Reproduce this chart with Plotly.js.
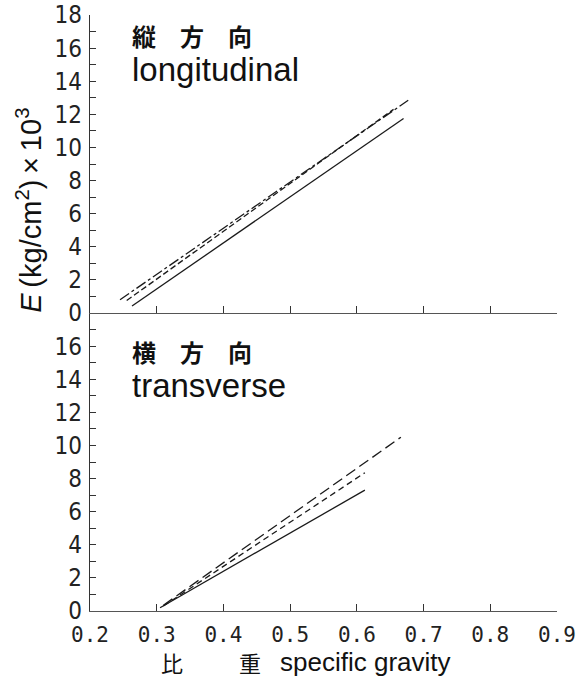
<!DOCTYPE html>
<html>
<head>
<meta charset="utf-8">
<script src="https://cdn.plot.ly/plotly-3.0.1.min.js"></script>
<style>
  html, body { margin: 0; padding: 0; background: #fff; }
  #chart { width: 582px; height: 680px; }
</style>
</head>
<body>
<div id="chart"></div>
<script>
// Young's modulus vs specific gravity, longitudinal (top) and transverse (bottom)

// 縦方向 longitudinal
const longSolidX = [0.263, 0.670];
const longSolidY = [0.42, 11.75];
const longDashX = [0.255, 0.655];
const longDashY = [0.75, 12.3];
const longDashDotX = [0.245, 0.677];
const longDashDotY = [0.8, 12.85];

// 横方向 transverse
const transSolidX = [0.305, 0.612];
const transSolidY = [0.2, 7.3];
const transDashX = [0.31, 0.612];
const transDashY = [0.3, 8.35];
const transLongDashX = [0.31, 0.666];
const transLongDashY = [0.35, 10.5];

// axis ticks
const xTicks = [0.2, 0.3, 0.4, 0.5, 0.6, 0.7, 0.8, 0.9];
const xTickText = ['0.2', '0.3', '0.4', '0.5', '0.6', '0.7', '0.8', '0.9'];
const yTicksTop = [0,1,2,3,4,5,6,7,8,9,10,11,12,13,14,15,16,17,18];
const yTicksBottom = [0,1,2,3,4,5,6,7,8,9,10,11,12,13,14,15,16,17];

const ink = '#1a1a1a';
const evenLabels = v => (v % 2 === 0 ? String(v) : '');

function line(x, y, dash, xa, ya) {
  return {
    x: x, y: y, type: 'scatter', mode: 'lines',
    xaxis: xa, yaxis: ya, showlegend: false, hoverinfo: 'skip',
    line: { color: ink, width: 1.3, dash: dash }
  };
}

const data = [
  line(longSolidX, longSolidY, 'solid', 'x2', 'y2'),
  line(longDashX, longDashY, '6px,3px', 'x2', 'y2'),
  line(longDashDotX, longDashDotY, '11px,3px,3px,3px', 'x2', 'y2'),
  line(transSolidX, transSolidY, 'solid', 'x', 'y'),
  line(transDashX, transDashY, '6px,4px', 'x', 'y'),
  line(transLongDashX, transLongDashY, '11px,5px', 'x', 'y')
];

const tickFont = { family: 'DejaVu Sans Condensed, Liberation Sans Narrow, Liberation Sans, sans-serif', size: 24, color: '#222' };

const baseX = {
  range: [0.2, 0.9], tickvals: xTicks, ticktext: xTickText,
  ticks: 'inside', ticklen: 7, tickwidth: 1, tickcolor: '#333',
  showline: true, linecolor: '#555', linewidth: 1.2,
  showgrid: false, zeroline: false
};
const baseY = {
  range: [0, 18], ticks: 'inside', ticklen: 6, tickwidth: 1, tickcolor: '#333',
  showline: true, linecolor: '#333', linewidth: 1.2,
  showgrid: false, zeroline: false, tickfont: tickFont, ticklabelstandoff: 2
};

const layout = {
  width: 582, height: 680,
  margin: { l: 90, r: 25, t: 15, b: 69 },
  paper_bgcolor: '#fff', plot_bgcolor: '#fff',
  xaxis: Object.assign({}, baseX, {
    domain: [0, 1], anchor: 'y',
    tickfont: { family: 'DejaVu Sans Mono, monospace', size: 21, color: '#222' },
    ticklabelstandoff: 5
  }),
  xaxis2: Object.assign({}, baseX, { domain: [0, 1], anchor: 'y2', showticklabels: false }),
  yaxis: Object.assign({}, baseY, {
    domain: [0, 0.5], anchor: 'x',
    tickvals: yTicksBottom, ticktext: yTicksBottom.map(evenLabels)
  }),
  yaxis2: Object.assign({}, baseY, {
    domain: [0.5, 1], anchor: 'x2',
    tickvals: yTicksTop, ticktext: yTicksTop.map(evenLabels)
  }),
  annotations: [
    { text: '縦　方　向', xref: 'paper', yref: 'paper', x: 0.0857, y: 0.966,
      xanchor: 'left', yanchor: 'middle', showarrow: false,
      font: { family: 'Noto Sans CJK JP', size: 24, color: '#111', weight: 'bold' } },
    { text: 'longitudinal', xref: 'paper', yref: 'paper', x: 0.0857, y: 0.908,
      xanchor: 'left', yanchor: 'middle', showarrow: false,
      font: { family: 'Liberation Sans, sans-serif', size: 33, color: '#111' } },
    { text: '横　方　向', xref: 'paper', yref: 'paper', x: 0.0857, y: 0.4346,
      xanchor: 'left', yanchor: 'middle', showarrow: false,
      font: { family: 'Noto Sans CJK JP', size: 24, color: '#111', weight: 'bold' } },
    { text: 'transverse', xref: 'paper', yref: 'paper', x: 0.0857, y: 0.379,
      xanchor: 'left', yanchor: 'middle', showarrow: false,
      font: { family: 'Liberation Sans, sans-serif', size: 33, color: '#111' } },
    { text: '<i>E</i>\u2009(kg/cm<sup>2</sup>)\u2009×\u200910<sup>3</sup>', xref: 'paper', yref: 'paper',
      x: -0.13, y: 0.672, xanchor: 'center', yanchor: 'middle', textangle: -90, showarrow: false,
      font: { family: 'Liberation Sans, sans-serif', size: 29, color: '#111' } },
    { text: '比', xref: 'paper', yref: 'paper', x: 0.1756, y: -0.0856,
      xanchor: 'center', yanchor: 'middle', showarrow: false,
      font: { family: 'Noto Sans CJK JP', size: 22, color: '#111' } },
    { text: '重', xref: 'paper', yref: 'paper', x: 0.3426, y: -0.0856,
      xanchor: 'center', yanchor: 'middle', showarrow: false,
      font: { family: 'Noto Sans CJK JP', size: 22, color: '#111' } },
    { text: 'specific gravity', xref: 'paper', yref: 'paper', x: 0.589, y: -0.0856,
      xanchor: 'center', yanchor: 'middle', showarrow: false,
      font: { family: 'Liberation Sans, sans-serif', size: 26, color: '#111' } }
  ]
};

Plotly.newPlot('chart', data, layout, { staticPlot: true, displayModeBar: false });
</script>
</body>
</html>
